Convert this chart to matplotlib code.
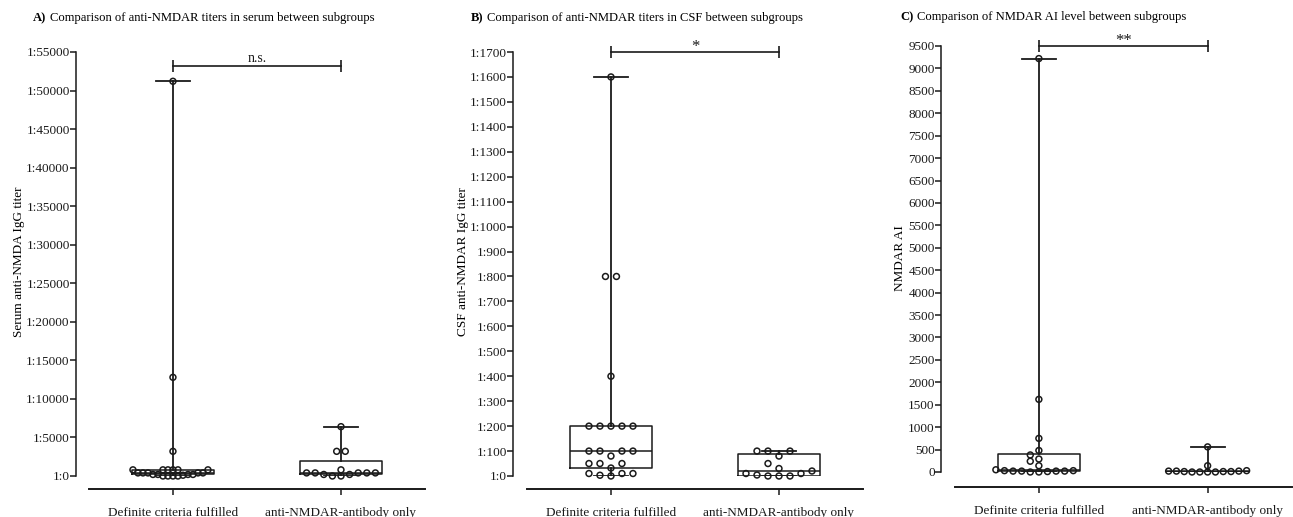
import numpy as np
import matplotlib
matplotlib.use("Agg")
from matplotlib import pyplot as plt

plt.rcParams['font.family'] = ['Liberation Serif', 'DejaVu Serif']

groups = ["Definite criteria fulfilled", "anti-NMDAR-antibody only"]

# A) serum titer (1:x)
serum_def = [51200, 12800, 3200, 800, 800, 800, 800, 800, 800, 400, 400, 400,
             400, 400, 200, 200, 200, 200, 100, 0, 0, 0, 0]
serum_ab = [6400, 3200, 3200, 800, 400, 400, 400, 400, 400, 200, 200, 0, 0]

# B) CSF titer (1:x)
csf_def = [1600, 800, 800, 400, 200, 200, 200, 200, 200, 100, 100, 100, 100,
           80, 50, 50, 50, 32, 10, 10, 10, 3, 0]
csf_ab = [100, 100, 100, 80, 50, 30, 20, 10, 10, 4, 0, 0, 0]

# C) NMDAR AI
ai_def = [9220, 1620, 750, 480, 380, 290, 240, 140, 50, 30, 30, 20, 20, 20, 20,
          10, 0, 0]
ai_ab = [560, 140, 30, 20, 20, 20, 10, 10, 10, 0, 0, 0, 0]

titles = ["Comparison of anti-NMDAR titers in serum between subgroups",
          "Comparison of anti-NMDAR titers in CSF between subgroups",
          "Comparison of NMDAR AI level between subgroups"]
letters = ["A)", "B)", "C)"]
ylabels = ["Serum anti-NMDA IgG titer", "CSF anti-NMDAR IgG titer", "NMDAR AI"]
ymax = [55000, 1700, 9500]
ystep = [5000, 100, 500]
prefix = ["1:", "1:", ""]
sig_labels = ["n.s.", "*", "**"]
sig_height = [53200, 1700, 9500]

W, H = 1293, 517
LC = '#1a1a1a'

fig = plt.figure(figsize=(W / 100, H / 100), dpi=100)


def px_axes(left, top, right, bottom):
    return fig.add_axes([left / W, 1 - bottom / H, (right - left) / W, (bottom - top) / H])


def box_stats(vals):
    q1, med, q3 = np.percentile(vals, [25, 50, 75], method='weibull')
    return dict(med=med, q1=q1, q3=q3, whislo=min(vals), whishi=max(vals), fliers=[])


def swarm_x(ax, x0, vals, step_px, d_px):
    # simple beeswarm: spread points that would overlap into slots left/right
    vals = np.asarray(vals, dtype=float)
    ypx = ax.transData.transform(np.column_stack([np.full(len(vals), x0), vals]))[:, 1]
    order = np.argsort(ypx, kind='stable')
    cands = [0]
    for k in range(1, 40):
        cands += [-k, k]
    placed = []
    offs = np.zeros(len(vals))
    for i in order:
        for k in cands:
            dx = k * step_px
            if all(abs(dx - pdx) >= step_px * 0.99 or abs(ypx[i] - py) >= d_px
                   for pdx, py in placed):
                break
        placed.append((dx, ypx[i]))
        offs[i] = dx
    # center rows of equal values that sit alone
    for v in np.unique(vals):
        idx = np.where(vals == v)[0]
        if len(idx) < 2:
            continue
        others = [j for j in range(len(vals)) if vals[j] != v and abs(ypx[j] - ypx[idx[0]]) < d_px]
        if others:
            continue
        o = np.sort(offs[idx])
        if np.isclose(o[-1] - o[0], (len(idx) - 1) * step_px):
            offs[idx] -= o.mean()
    ppu = ax.transData.transform((1, 0))[0] - ax.transData.transform((0, 0))[0]
    return x0 + offs / ppu


# axes boxes in pixels: left, top, right, bottom
boxes = [(76, 52, 425, 476), (513, 52, 863, 476), (941, 46, 1292, 472)]
xlims = [(0.423, 2.5), (0.417, 2.5), (0.42, 2.5)]
title_pos = [(33, 18), (471, 18), (900, 17)]
ylabel_pos = [(19, 262), (463, 262), (900, 258)]
offsets_px = [13, 13, 15]
steps = [(5.0, 8.6), (11, 11), (8.6, 7.8)]
sig_dy = [0.5, -2.5, -2.5]
sig_fs = [10, 12, 12]
data = [(serum_def, serum_ab), (csf_def, csf_ab), (ai_def, ai_ab)]

for p in range(3):
    ax = px_axes(*boxes[p])

    lp = dict(color=LC, linewidth=1.1)
    ax.bxp([box_stats(data[p][0]), box_stats(data[p][1])], positions=[1, 2],
           widths=0.49, capwidths=0.2, showfliers=False, manage_ticks=False,
           boxprops=lp, whiskerprops=dict(color=LC, linewidth=1.3),
           capprops=dict(color=LC, linewidth=1.3), medianprops=lp)

    ax.set_xlim(*xlims[p])
    ax.set_ylim(0, ymax[p])
    ticks = np.arange(0, ymax[p] + 1, ystep[p])
    ax.set_yticks(ticks)
    ax.set_yticklabels([prefix[p] + str(t) for t in ticks])
    ax.set_xticks([1, 2])
    ax.set_xticklabels(groups)
    for s in ['top', 'right']:
        ax.spines[s].set_visible(False)
    ax.spines['left'].set_linewidth(1.1)
    ax.spines['left'].set_color(LC)
    ax.spines['bottom'].set_linewidth(1.4)
    ax.spines['bottom'].set_color(LC)
    ax.spines['bottom'].set_position(('outward', offsets_px[p] * 0.72))
    ax.spines['bottom'].set_bounds(0.5, 2.5)
    ax.tick_params(axis='y', length=4, width=1.1, pad=0.5, labelsize=9.5, colors=LC)
    ax.tick_params(axis='x', length=4, width=1.1, pad=9, labelsize=9.5, colors=LC)

    for g in range(2):
        vals = data[p][g]
        xs = swarm_x(ax, g + 1, vals, steps[p][g], 5.5)
        ax.scatter(xs, vals, s=18, facecolors='none', edgecolors=LC,
                   linewidths=1.1, zorder=3, clip_on=False)

    h = sig_height[p]
    ax.plot([1, 2], [h, h], color=LC, lw=1.2, marker='|', ms=8, mew=1.2,
            clip_on=False)
    ax.annotate(sig_labels[p], xy=(1.5, h), xytext=(0, sig_dy[p]), textcoords='offset points',
                ha='center', va='bottom', fontsize=sig_fs[p], color=LC, annotation_clip=False)

    tx, ty = title_pos[p]
    t = fig.text(tx / W, 1 - ty / H, letters[p], fontsize=9.1, weight='bold',
                 va='center', color='black')
    ax.annotate(titles[p], xy=(1, 0), xycoords=t, xytext=(2.5, 0),
                textcoords='offset points', ha='left', va='bottom', fontsize=9.1,
                color='black', annotation_clip=False)

    lx, ly = ylabel_pos[p]
    fig.text(lx / W, 1 - ly / H, ylabels[p], rotation=90, ha='center', va='center',
             fontsize=9.5, color='black')

fig.savefig("out.png", dpi=100)
